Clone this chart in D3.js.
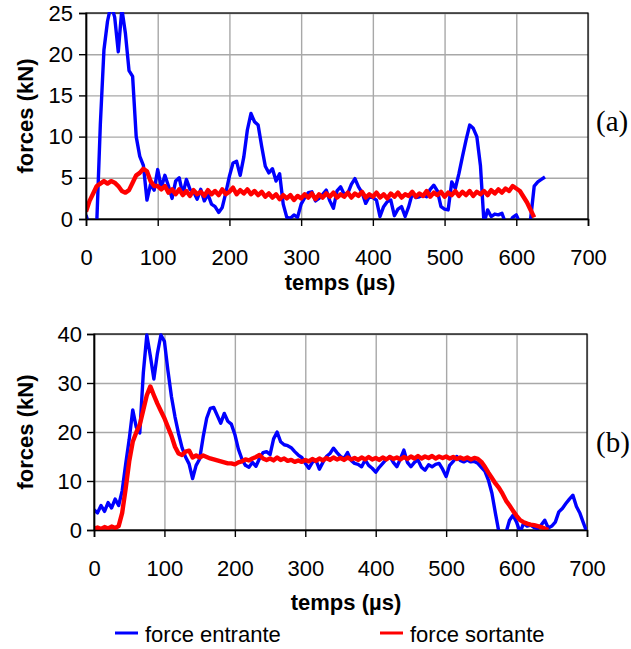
<!DOCTYPE html>
<html><head><meta charset="utf-8">
<script src="https://cdn.jsdelivr.net/npm/d3@7"></script>
<style>
html,body{margin:0;padding:0;background:#fff;}
svg{display:block;}
text{font-family:"Liberation Sans",Arial,sans-serif;fill:#000;}
</style></head>
<body>
<svg id="chart" width="631" height="649"></svg>
<script>
// sampling step of the recorded traces (µs)
const sampleStep = 5;
const xTicks = [0, 100, 200, 300, 400, 500, 600, 700];
const yTicksA = [0, 5, 10, 15, 20, 25];
const yTicksB = [0, 10, 20, 30, 40];
const seriesNames = ["force entrante", "force sortante"];

// (a) force entrante, t = 0..640 µs
const aEntrante = [0.5,-1,-1,-0.5,11.5,20.5,24,26,24.5,20.3,25.5,22.5,18,17.3,10,7.6,6.5,2.3,4.2,3.5,
6.0,3.8,5.3,4.0,2.5,4.6,5.0,3.0,4.8,3.6,3.3,2.4,3.6,2.2,3.0,1.8,1.5,0.8,1.4,3.2,
5.2,6.8,7.0,5.3,7.5,10.8,12.8,11.8,11.4,8.8,6.4,5.6,6.1,4.6,5.5,1.8,0.2,0.1,0.5,0.2,
1.8,2.6,3.2,3.3,2.2,2.5,3.0,3.5,2.2,1.3,3.4,3.9,3.0,3.1,4.2,4.9,3.9,3.2,1.9,2.7,
2.6,2.3,0.3,1.5,2.1,2.3,0.4,1.2,1.5,0.3,1.5,3.1,2.6,2.7,2.9,2.7,3.6,4.1,3.4,1.5,
1.2,1.1,4.5,3.7,5.5,7.6,9.6,11.4,11.0,10.0,6.5,-0.5,1.1,0.3,0.6,0.5,0.7,-0.5,-0.5,0.2,
0.5,-0.5,-0.5,-0.5,0,4.0,4.5,4.8,5.1];
// (a) force sortante, t = 0..625 µs
const aSortante = [0.9,2.2,3.1,4.0,4.3,4.6,4.3,4.6,4.4,4.0,3.4,3.2,3.5,4.4,5.3,5.6,6.1,5.8,4.6,4.0,
4.0,3.6,4.0,3.2,3.6,3.0,3.6,2.9,3.4,2.8,3.5,3.0,3.3,2.8,3.5,3.0,3.4,2.9,3.6,3.0,
3.3,3.8,3.0,3.5,3.1,3.6,3.0,3.4,2.9,3.3,2.7,3.1,2.6,3.0,2.4,2.9,2.5,2.9,2.3,2.8,
2.5,3.0,2.6,3.1,2.4,3.0,2.6,3.1,2.7,3.2,2.6,3.0,2.7,3.2,2.6,3.1,2.8,3.3,2.6,3.0,
2.7,3.2,2.6,3.0,2.5,3.1,2.7,3.2,2.6,3.0,2.8,3.3,2.7,3.1,2.8,3.4,2.7,3.2,2.9,3.3,
2.7,3.2,2.9,3.4,2.8,3.3,2.9,3.4,2.8,3.3,3.0,3.4,2.9,3.5,3.1,3.6,3.2,3.7,3.4,4.0,
3.7,3.4,2.7,2.0,1.1,0.2];
// (b) force entrante, t = 0..700 µs
const bEntrante = [4.1,3.5,5.0,3.8,5.6,4.5,6.3,5.0,8.0,13.5,18.5,24.5,21.0,19.8,32,39.8,35.5,30.8,36.0,39.8,
38.5,32.5,27.2,23.1,19.7,16.8,14.9,13.5,10.5,13.2,14.5,19.0,22.8,24.8,25.0,23.4,21.8,23.8,22.2,21.6,
19.5,16.5,14.5,13.2,12.8,13.8,13.0,14.6,15.8,16.0,15.4,18.6,20.0,18.0,17.4,17.2,16.8,16.0,15.3,14.8,
13.6,12.6,13.8,14.3,12.4,13.8,15.0,15.6,16.7,15.8,15.0,14.6,15.8,14.2,13.6,13.4,12.9,14.3,13.2,12.6,
11.8,12.8,13.6,14.4,15.0,13.8,12.9,14.5,16.3,13.8,12.9,13.8,14.3,12.8,12.2,13.3,12.9,13.4,13.6,12.4,
10.9,13.2,14.0,15.0,14.2,13.9,14.3,13.9,14.0,13.6,12.8,12.0,10.2,7.5,3.4,-0.5,-1,-0.5,2.0,3.0,
1.6,-0.5,1.4,0.8,1.0,0.5,0.3,1.0,2.0,0.4,0.8,1.6,3.7,4.4,5.4,6.3,7.1,4.8,3.4,1.4,-0.5];
// (b) force sortante, t = 0..645 µs
const bSortante = [0.3,0.5,0.2,0.6,0.3,0.7,0.4,0.8,3.5,8.5,14.0,18.0,19.9,21.5,24.5,27.5,29.3,27.5,25.8,24.3,
22.8,21.0,19.2,17.0,15.6,15.3,16.0,16.2,14.8,15.2,14.8,15.2,14.9,14.6,14.4,14.2,14.0,13.8,13.6,13.6,
13.4,13.8,14.0,14.4,14.2,14.6,14.9,15.3,14.6,14.3,14.6,14.2,14.8,14.3,14.6,14.1,14.3,13.9,14.2,13.9,
14.3,14.0,14.5,14.1,14.6,14.2,14.7,14.3,14.8,14.4,14.7,14.3,14.8,14.4,14.7,14.3,14.8,14.4,14.9,14.4,
14.7,14.3,14.8,14.4,14.9,14.5,14.8,14.4,14.9,14.5,15.0,14.6,15.1,14.6,15.0,14.7,15.1,14.6,15.0,14.7,
15.0,14.6,14.9,14.5,14.8,14.5,14.8,14.4,14.7,14.5,13.9,12.9,11.7,10.6,9.5,8.6,7.4,6.0,5.0,3.9,
2.9,2.0,1.6,1.3,1.1,1.0,0.8,0.6,0.3,0];

const blue = "#0000ff", red = "#ff0000";
const svg = d3.select("#chart");

function panel(cfg) {
  const g = svg.append("g");
  const x = d3.scaleLinear().domain([0, 700]).range([cfg.left, cfg.right]);
  const y = d3.scaleLinear().domain([0, cfg.ymax]).range([cfg.bottom, cfg.top]);
  const w = cfg.right - cfg.left, h = cfg.bottom - cfg.top;

  // grid
  g.append("g").attr("transform", `translate(0,${cfg.bottom})`)
    .call(d3.axisBottom(x).tickValues(xTicks).tickSize(-h).tickFormat(""))
    .call(s => s.select(".domain").remove())
    .call(s => s.selectAll("line").attr("stroke", "#a8a8a8").attr("stroke-width", 1.4));
  g.append("g").attr("transform", `translate(${cfg.left},0)`)
    .call(d3.axisLeft(y).tickValues(cfg.yTicks).tickSize(-w).tickFormat(""))
    .call(s => s.select(".domain").remove())
    .call(s => s.selectAll("line").attr("stroke", "#a8a8a8").attr("stroke-width", 1.4));

  // border
  g.append("rect").attr("x", cfg.left).attr("y", cfg.top).attr("width", w).attr("height", h)
    .attr("fill", "none").attr("stroke", "#000").attr("stroke-width", 1.2);

  // lines
  const clipId = "clip" + cfg.id;
  svg.append("clipPath").attr("id", clipId).append("rect")
    .attr("x", cfg.left).attr("y", cfg.top - 1).attr("width", w).attr("height", h + 1);
  const line = d3.line().x((d, i) => x(i * sampleStep)).y(d => y(d));
  const lg = g.append("g").attr("clip-path", `url(#${clipId})`);
  lg.append("path").datum(cfg.blueData).attr("d", line).attr("fill", "none")
    .attr("stroke", blue).attr("stroke-width", 3.4).attr("stroke-linejoin", "round");
  lg.append("path").datum(cfg.redData).attr("d", line).attr("fill", "none")
    .attr("stroke", red).attr("stroke-width", cfg.redWidth).attr("stroke-linejoin", "round");

  // axes
  const ax = g.append("g").attr("transform", `translate(0,${cfg.bottom})`)
    .call(d3.axisBottom(x).tickValues(xTicks).tickSize(7).tickPadding(cfg.xPad).tickFormat(d3.format("d")));
  ax.select(".domain").attr("stroke", "#000").attr("stroke-width", 1.6);
  ax.selectAll("line").attr("stroke", "#000").attr("stroke-width", 1.4);
  ax.selectAll("text").attr("font-size", 22).attr("font-family", "Liberation Sans, Arial, sans-serif");
  const ay = g.append("g").attr("transform", `translate(${cfg.left},0)`)
    .call(d3.axisLeft(y).tickValues(cfg.yTicks).tickSize(7).tickPadding(cfg.yPad).tickFormat(d3.format("d")));
  ay.select(".domain").attr("stroke", "#000").attr("stroke-width", 1.6);
  ay.selectAll("line").attr("stroke", "#000").attr("stroke-width", 1.4);
  ay.selectAll("text").attr("font-size", 22).attr("font-family", "Liberation Sans, Arial, sans-serif");

  // titles
  g.append("text").attr("x", cfg.xTitleX).attr("y", cfg.xTitleY).attr("text-anchor", "middle")
    .attr("font-size", 22).attr("font-weight", "bold").text("temps (µs)");
  g.append("text").attr("transform", `translate(33,${(cfg.top + cfg.bottom) / 2}) rotate(-90)`)
    .attr("text-anchor", "middle").attr("font-size", 22).attr("font-weight", "bold").text("forces (kN)");
  g.append("text").attr("x", 596).attr("y", cfg.tagY).attr("font-size", 29)
    .style("font-family", "'Liberation Serif','Times New Roman',serif").text(cfg.tag);
}

panel({id: "a", left: 86, right: 588, top: 13, bottom: 219, ymax: 25, yTicks: yTicksA,
  blueData: aEntrante, redData: aSortante, redWidth: 4.4, xPad: 23, yPad: 6,
  xTitleX: 340, xTitleY: 290, tag: "(a)", tagY: 131});
panel({id: "b", left: 94, right: 587, top: 334, bottom: 530, ymax: 40, yTicks: yTicksB,
  blueData: bEntrante, redData: bSortante, redWidth: 4.4, xPad: 23, yPad: 5,
  xTitleX: 346, xTitleY: 610, tag: "(b)", tagY: 452});

// legend
const legendItems = [{name: seriesNames[0], color: blue, x: 115}, {name: seriesNames[1], color: red, x: 380}];
const leg = svg.append("g");
legendItems.forEach(d => {
  leg.append("line").attr("x1", d.x).attr("x2", d.x + 23).attr("y1", 633).attr("y2", 633)
    .attr("stroke", d.color).attr("stroke-width", 3);
  leg.append("text").attr("x", d.x + 30).attr("y", 642).attr("font-size", 22).text(d.name);
});
</script>
</body></html>
